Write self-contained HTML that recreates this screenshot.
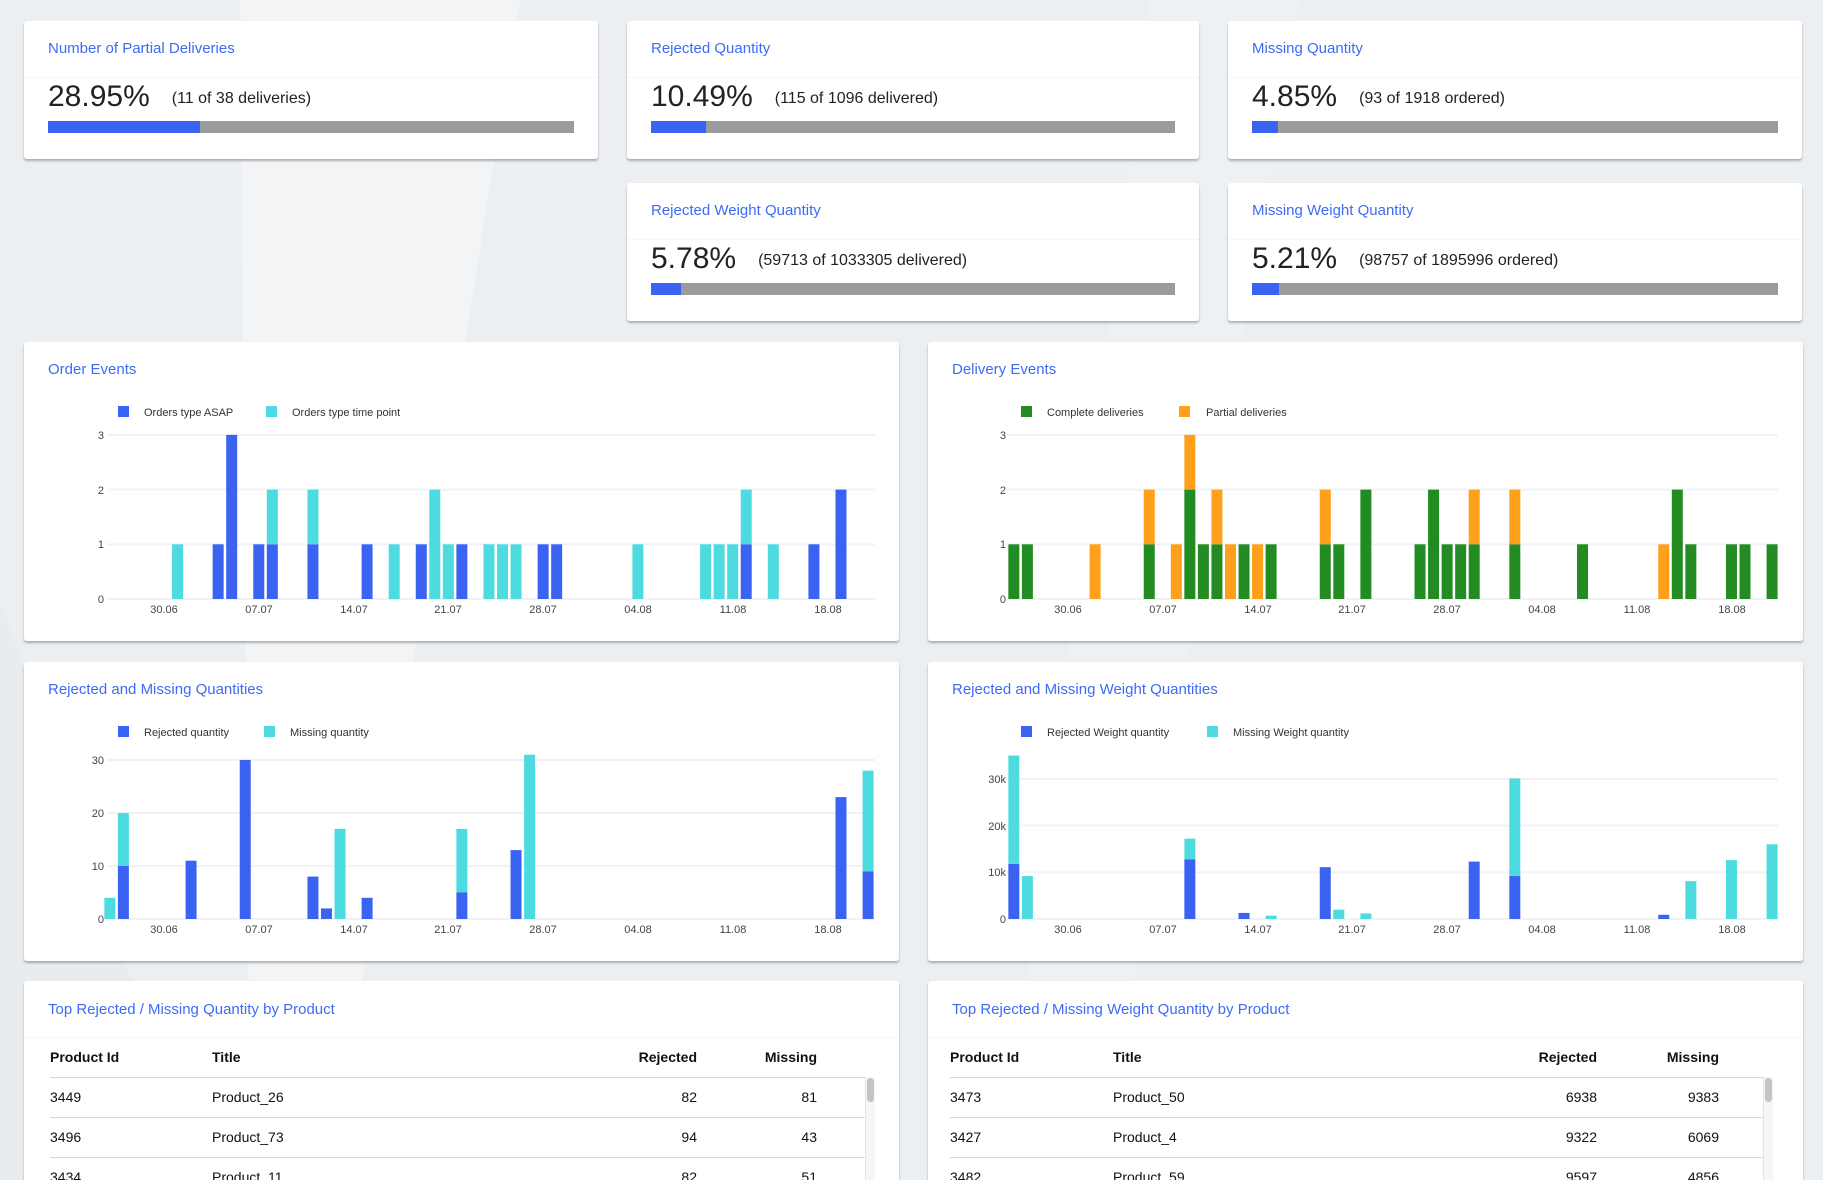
<!DOCTYPE html>
<html><head><meta charset="utf-8">
<style>
*{margin:0;padding:0;box-sizing:border-box}
html{width:1823px;height:1180px;overflow:hidden}
body{width:1823px;height:1180px;overflow:hidden;background:#eceff2;font-family:"Liberation Sans",sans-serif;position:relative}
.bgs{position:absolute;inset:0}
.card{position:absolute;background:#fff;border-radius:3px;box-shadow:0 2px 2px rgba(0,0,0,0.28)}
.title{position:absolute;left:24px;top:19px;font-size:15px;color:#3d6bf5}
.div{position:absolute;left:0;right:0;top:56px;height:1px;background:#f6f6f6}
.pct{position:absolute;left:24px;top:56px;font-size:30px;color:#222;line-height:40px;white-space:nowrap}
.pct span{font-size:16px;margin-left:22px;vertical-align:3px}
.bar{position:absolute;left:24px;right:24px;top:100px;height:12px;background:#9b9b9b}
.bar i{position:absolute;left:0;top:0;bottom:0;background:#3a63f2}
svg{position:absolute;left:0;top:0}
table{position:absolute;border-collapse:collapse;font-size:14px;color:#111}
td,th{height:40px;padding:0}
th{font-weight:bold;text-align:left;height:40px}
tbody td{border-top:1px solid #d8d8d8}
.r{text-align:right}
.sb{position:absolute;width:7px;height:24px;background:#c4c4c4;border-radius:4px}
.sbt{position:absolute;width:10px;background:#f6f6f6;border-left:1px solid #e4e4e4}
</style></head><body>
<svg class="bgs" width="1823" height="1180"><polygon points="240,0 520,0 330,1180 250,1180" fill="#f2f4f6"/><polygon points="1150,0 1300,0 1100,1180 1000,1180" fill="#eef1f3"/><polygon points="0,600 200,1180 0,1180" fill="#e8ecef"/></svg>

<div class="card" style="left:24px;top:21px;width:574px;height:138px"><div class="title">Number of Partial Deliveries</div><div class="div"></div><div class="pct">28.95%<span>(11 of 38 deliveries)</span></div><div class="bar"><i style="width:28.95%"></i></div></div>
<div class="card" style="left:627px;top:21px;width:572px;height:138px"><div class="title">Rejected Quantity</div><div class="div"></div><div class="pct">10.49%<span>(115 of 1096 delivered)</span></div><div class="bar"><i style="width:10.49%"></i></div></div>
<div class="card" style="left:1228px;top:21px;width:574px;height:138px"><div class="title">Missing Quantity</div><div class="div"></div><div class="pct">4.85%<span>(93 of 1918 ordered)</span></div><div class="bar"><i style="width:4.85%"></i></div></div>
<div class="card" style="left:627px;top:183px;width:572px;height:138px"><div class="title">Rejected Weight Quantity</div><div class="div"></div><div class="pct">5.78%<span>(59713 of 1033305 delivered)</span></div><div class="bar"><i style="width:5.78%"></i></div></div>
<div class="card" style="left:1228px;top:183px;width:574px;height:138px"><div class="title">Missing Weight Quantity</div><div class="div"></div><div class="pct">5.21%<span>(98757 of 1895996 ordered)</span></div><div class="bar"><i style="width:5.21%"></i></div></div>

<div class="card" style="left:24px;top:342px;width:875px;height:299px"><div class="title">Order Events</div>
<svg id="c1" width="875" height="299" font-family="Liberation Sans, sans-serif" font-size="11" fill="#444">
<rect x="94" y="64" width="11" height="11" fill="#3a63f2"/><text x="120" y="74" fill="#333">Orders type ASAP</text>
<rect x="242" y="64" width="11" height="11" fill="#4ddbe0"/><text x="268" y="74" fill="#333">Orders type time point</text>
<g text-anchor="end"><text x="80" y="261">0</text><text x="80" y="206">1</text><text x="80" y="152">2</text><text x="80" y="97">3</text></g>
<g text-anchor="middle"><text x="140" y="271">30.06</text><text x="235" y="271">07.07</text><text x="330" y="271">14.07</text><text x="424" y="271">21.07</text><text x="519" y="271">28.07</text><text x="614" y="271">04.08</text><text x="709" y="271">11.08</text><text x="804" y="271">18.08</text></g>
</svg></div>

<div class="card" style="left:928px;top:342px;width:875px;height:299px"><div class="title">Delivery Events</div>
<svg id="c2" width="875" height="299" font-family="Liberation Sans, sans-serif" font-size="11" fill="#444">
<rect x="93" y="64" width="11" height="11" fill="#228b22"/><text x="119" y="74" fill="#333">Complete deliveries</text>
<rect x="251" y="64" width="11" height="11" fill="#ff9f1a"/><text x="278" y="74" fill="#333">Partial deliveries</text>
<g text-anchor="end"><text x="78" y="261">0</text><text x="78" y="206">1</text><text x="78" y="152">2</text><text x="78" y="97">3</text></g>
<g text-anchor="middle"><text x="140" y="271">30.06</text><text x="235" y="271">07.07</text><text x="330" y="271">14.07</text><text x="424" y="271">21.07</text><text x="519" y="271">28.07</text><text x="614" y="271">04.08</text><text x="709" y="271">11.08</text><text x="804" y="271">18.08</text></g>
</svg></div>

<div class="card" style="left:24px;top:662px;width:875px;height:299px"><div class="title">Rejected and Missing Quantities</div>
<svg id="c3" width="875" height="299" font-family="Liberation Sans, sans-serif" font-size="11" fill="#444">
<rect x="94" y="64" width="11" height="11" fill="#3a63f2"/><text x="120" y="74" fill="#333">Rejected quantity</text>
<rect x="240" y="64" width="11" height="11" fill="#4ddbe0"/><text x="266" y="74" fill="#333">Missing quantity</text>
<g text-anchor="end"><text x="80" y="261">0</text><text x="80" y="208">10</text><text x="80" y="155">20</text><text x="80" y="102">30</text></g>
<g text-anchor="middle"><text x="140" y="271">30.06</text><text x="235" y="271">07.07</text><text x="330" y="271">14.07</text><text x="424" y="271">21.07</text><text x="519" y="271">28.07</text><text x="614" y="271">04.08</text><text x="709" y="271">11.08</text><text x="804" y="271">18.08</text></g>
</svg></div>

<div class="card" style="left:928px;top:662px;width:875px;height:299px"><div class="title">Rejected and Missing Weight Quantities</div>
<svg id="c4" width="875" height="299" font-family="Liberation Sans, sans-serif" font-size="11" fill="#444">
<rect x="93" y="64" width="11" height="11" fill="#3a63f2"/><text x="119" y="74" fill="#333">Rejected Weight quantity</text>
<rect x="279" y="64" width="11" height="11" fill="#4ddbe0"/><text x="305" y="74" fill="#333">Missing Weight quantity</text>
<g text-anchor="end"><text x="78" y="261">0</text><text x="78" y="214">10k</text><text x="78" y="168">20k</text><text x="78" y="121">30k</text></g>
<g text-anchor="middle"><text x="140" y="271">30.06</text><text x="235" y="271">07.07</text><text x="330" y="271">14.07</text><text x="424" y="271">21.07</text><text x="519" y="271">28.07</text><text x="614" y="271">04.08</text><text x="709" y="271">11.08</text><text x="804" y="271">18.08</text></g>
</svg></div>

<div class="card" style="left:24px;top:981px;width:875px;height:199px;overflow:hidden;border-radius:3px 3px 0 0"><div class="title" style="top:20px">Top Rejected / Missing Quantity by Product</div><div class="div"></div>
<table style="left:26px;top:56px;width:815px">
<thead><tr><th style="width:162px">Product Id</th><th style="width:340px">Title</th><th class="r" style="width:145px">Rejected</th><th class="r" style="width:120px">Missing</th><th></th></tr></thead>
<tbody><tr><td>3449</td><td>Product_26</td><td class="r">82</td><td class="r">81</td><td></td></tr>
<tr><td>3496</td><td>Product_73</td><td class="r">94</td><td class="r">43</td><td></td></tr>
<tr><td>3434</td><td>Product_11</td><td class="r">82</td><td class="r">51</td><td></td></tr></tbody></table>
<div class="sbt" style="left:841px;top:96px;height:110px"></div><div class="sb" style="left:843px;top:97px"></div>
</div>

<div class="card" style="left:928px;top:981px;width:875px;height:199px;overflow:hidden;border-radius:3px 3px 0 0"><div class="title" style="top:20px">Top Rejected / Missing Weight Quantity by Product</div><div class="div"></div>
<table style="left:22px;top:56px;width:813px">
<thead><tr><th style="width:163px">Product Id</th><th style="width:340px">Title</th><th class="r" style="width:144px">Rejected</th><th class="r" style="width:122px">Missing</th><th></th></tr></thead>
<tbody><tr><td>3473</td><td>Product_50</td><td class="r">6938</td><td class="r">9383</td><td></td></tr>
<tr><td>3427</td><td>Product_4</td><td class="r">9322</td><td class="r">6069</td><td></td></tr>
<tr><td>3482</td><td>Product_59</td><td class="r">9597</td><td class="r">4856</td><td></td></tr></tbody></table>
<div class="sbt" style="left:835px;top:96px;height:110px"></div><div class="sb" style="left:837px;top:97px"></div>
</div>

<script>
var NS="http://www.w3.org/2000/svg";
function R(s,x,y,w,h,f){var r=document.createElementNS(NS,"rect");r.setAttribute("x",x);r.setAttribute("y",y);r.setAttribute("width",w);r.setAttribute("height",h);r.setAttribute("fill",f);s.appendChild(r);}
function chart(id,x1,x2,grid,scale,data,c1,c2){
 var s=document.getElementById(id);
 grid.forEach(function(g){R(s,x1,257-g*scale-1,x2-x1,2,"#f1f2f8");});
 data.forEach(function(d){var cx=140+13.54*d[0];var a=d[1]*scale,b=d[2]*scale;
  if(a>0)R(s,cx-5.5,257-a,11,a,c1);
  if(b>0)R(s,cx-5.5,257-a-b,11,b,c2);});
}
var B="#3a63f2",C="#4ddbe0",G="#228b22",O="#ff9f1a";
chart("c1",83,851,[0,1,2,3],54.7,[[1,0,1],[4,1,0],[5,3,0],[7,1,0],[8,1,1],[11,1,1],[15,1,0],[17,0,1],[19,1,0],[20,0,2],[21,0,1],[22,1,0],[24,0,1],[25,0,1],[26,0,1],[28,1,0],[29,1,0],[35,0,1],[40,0,1],[41,0,1],[42,0,1],[43,1,1],[45,0,1],[48,1,0],[50,2,0]],B,C);
chart("c2",78,850,[0,1,2,3],54.7,[[-4,1,0],[-3,1,0],[2,0,1],[6,1,1],[8,0,1],[9,2,1],[10,1,0],[11,1,1],[12,0,1],[13,1,0],[14,0,1],[15,1,0],[19,1,1],[20,1,0],[22,2,0],[26,1,0],[27,2,0],[28,1,0],[29,1,0],[30,1,1],[33,1,1],[38,1,0],[44,0,1],[45,2,0],[46,1,0],[49,1,0],[50,1,0],[52,1,0]],G,O);
chart("c3",83,851,[0,10,20,30],5.3,[[-4,0,4],[-3,10,10],[2,11,0],[6,30,0],[11,8,0],[12,2,0],[13,0,17],[15,4,0],[22,5,12],[26,13,0],[27,0,31],[50,23,0],[52,9,19]],B,C);
chart("c4",78,850,[0,10,20,30],4.67,[[-4,11.8,23.2],[-3,0,9.2],[9,12.8,4.4],[13,1.3,0],[15,0,0.7],[19,11.1,0],[20,0,2],[22,0,1.2],[30,12.3,0],[33,9.2,20.9],[44,0.9,0],[46,0,8.1],[49,0,12.6],[52,0,16]],B,C);
</script>
</body></html>
